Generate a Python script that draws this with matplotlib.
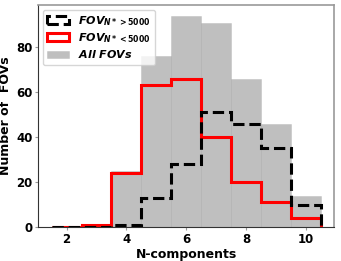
import numpy as np
import matplotlib
matplotlib.use("Agg")
import matplotlib.pyplot as plt

# Datos del histograma (centros de bin = numero de componentes)
n_comp = [2, 3, 4, 5, 6, 7, 8, 9, 10]
fov_alto = [0, 0, 1, 13, 28, 51, 46, 35, 10]   # FOV con N* > 5000
fov_bajo = [0, 1, 24, 63, 66, 40, 20, 11, 4]   # FOV con N* < 5000
fov_todos = [a + b for a, b in zip(fov_alto, fov_bajo)]

plt.rcParams['mathtext.fontset'] = 'custom'
plt.rcParams['mathtext.it'] = 'DejaVu Sans:italic:bold'
plt.rcParams['mathtext.rm'] = 'DejaVu Sans:bold'
plt.rcParams['mathtext.bf'] = 'DejaVu Sans:bold'

bins = np.arange(1.5, 11.5, 1.0)

fig = plt.figure(figsize=(3.41, 2.61), dpi=100)
ax = fig.add_axes([0.112, 0.13, 0.868, 0.85])

ax.hist(n_comp, bins=bins, weights=fov_alto, histtype='step',
        color='k', ls='--', lw=2.2, label=r'$FOV_{N*>5000}$', zorder=3)
ax.hist(n_comp, bins=bins, weights=fov_bajo, histtype='step',
        color='red', lw=2.2, label=r'$FOV_{N*<5000}$', zorder=2)
ax.hist(n_comp, bins=bins, weights=fov_todos, color='gray', alpha=0.5,
        edgecolor='#b0b0b0', lw=0.5, label=r'$All\ FOVs$', zorder=1)

ax.set_xlabel('N-components', fontsize=9, fontweight='bold', labelpad=2)
ax.set_ylabel('Number of  FOVs', fontsize=9, fontweight='bold', labelpad=3)
ax.set_xticks([2, 4, 6, 8, 10])
ax.set_yticks([0, 20, 40, 60, 80])
for lab in ax.get_xticklabels() + ax.get_yticklabels():
    lab.set_fontweight('bold')
ax.tick_params(labelsize=8.5, length=2, width=0.8, color='#999999', pad=2)

for s in ['left', 'bottom']:
    ax.spines[s].set_color('#333333')
for s in ['top', 'right']:
    ax.spines[s].set_color('#999999')
    ax.spines[s].set_linewidth(1.2)

ax.legend(loc='upper left', fontsize=8, handlelength=2.0, borderpad=0.4,
          labelspacing=0.3, handletextpad=0.8, borderaxespad=0.4,
          framealpha=0.8)

fig.savefig('out.png', dpi=100)
